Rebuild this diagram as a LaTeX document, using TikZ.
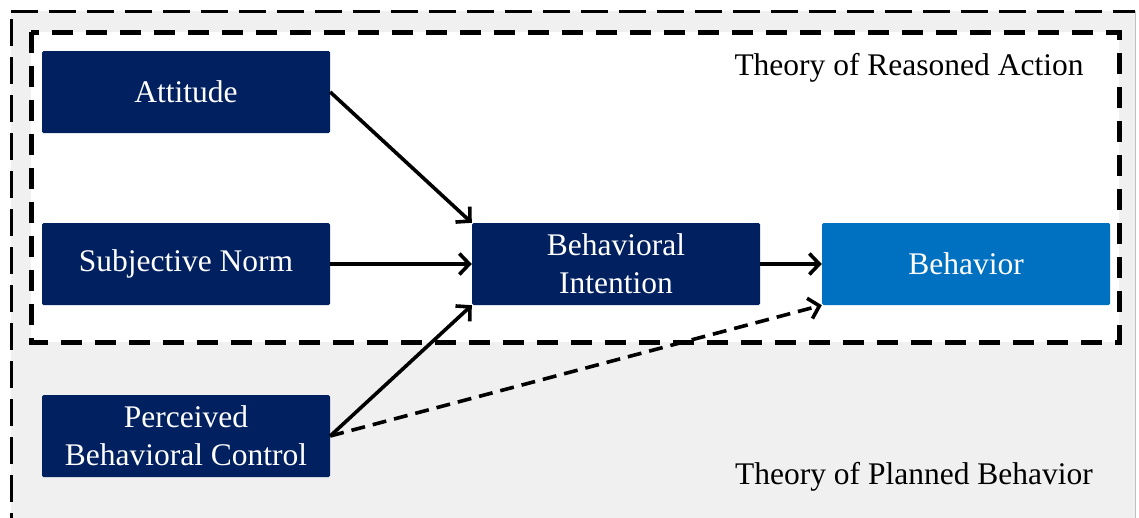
\documentclass[tikz,border=0pt]{standalone}
\usepackage{fontspec}
\setmainfont{Liberation Serif}
\usetikzlibrary{arrows.meta}
\definecolor{navy}{HTML}{002060}
\definecolor{lightblue}{HTML}{0070C0}
\definecolor{panel}{HTML}{F0F0F0}
\tikzset{
  box/.style={rectangle, rounded corners=1.5pt, fill=navy, text=white,
    minimum width=288pt, minimum height=82pt, inner sep=0pt, align=center,
    font=\fontsize{31.5}{38}\selectfont},
  link/.style={line width=3.6pt, -{Straight Barb[length=10pt,width=21pt,line width=3.6pt]}},
  theory/.style={font=\fontsize{31.5}{38}\selectfont, text=black, inner sep=0pt}
}
\begin{document}
\begin{tikzpicture}[x=1pt,y=-1pt]
\useasboundingbox (0,0) rectangle (1139,517);
\clip (0,0) rectangle (1139,517);
% outer region: Theory of Planned Behavior
\fill[panel] (11,11) rectangle (1135,540);
\draw[line width=3pt, dash pattern=on 27pt off 11pt] (11,11) -- (1135,11);
\draw[line width=3pt, dash pattern=on 27pt off 11pt] (11,540) -- (11,11);
\draw[line width=1pt, black!25] (1135,11) -- (1135,540);
% inner region: Theory of Reasoned Action
\fill[white] (31,32) rectangle (1119,342);
\draw[line width=5pt, dash pattern=on 21pt off 13pt] (31,32) rectangle (1119,342);

\node[theory] (tra) at (909,68) {Theory of Reasoned Action};
\node[theory] (tpb) at (914,477) {Theory of Planned Behavior};

\node[box] (att) at (186,92) {Attitude};
\node[box] (sn)  at (186,264) {Subjective Norm};
\node[box] (pbc) at (186,436) {Perceived\\Behavioral Control};
\node[box] (bi)  at (616,264) {Behavioral\\Intention};
\node[box, fill=lightblue] (beh) at (966,264) {Behavior};

\draw[link] (att.east) -- (bi.north west);
\draw[link] (sn.east) -- (bi.west);
\draw[link] (pbc.east) -- (bi.south west);
\draw[link] (bi.east) -- (beh.west);
\draw[link, dash pattern=on 14pt off 8pt] (pbc.east) -- (beh.south west);
\end{tikzpicture}
\end{document}
